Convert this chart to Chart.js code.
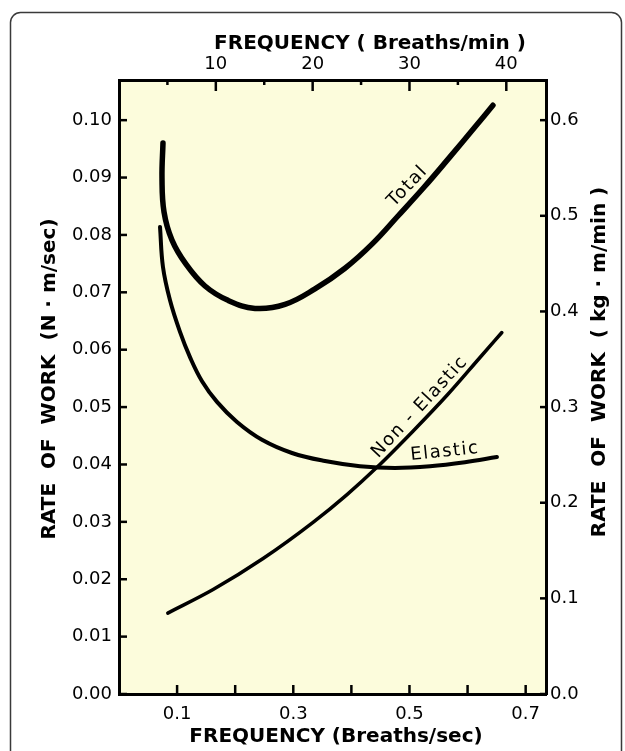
<!DOCTYPE html>
<html>
<head>
<meta charset="utf-8">
<script src="https://cdn.jsdelivr.net/npm/chart.js@4.4.1/dist/chart.umd.min.js"></script>
<style>
  body { margin: 0; background: #fff; }
  canvas { display: block; }
</style>
</head>
<body>
<canvas id="work-chart" width="625" height="751"></canvas>
<script>
"use strict"

// frequency in breaths/sec, rate of work in N·m/sec
const totalFreq      = [0.0757, 0.0740, 0.0775, 0.0912, 0.1153, 0.148, 0.1876, 0.2341, 0.2857, 0.3373, 0.389, 0.4355, 0.4802, 0.525, 0.5697, 0.6127, 0.6437];
const totalWork      = [0.0960, 0.0899, 0.0840, 0.0791, 0.0749, 0.0711, 0.0686, 0.0672, 0.0679, 0.0706, 0.0742, 0.0784, 0.0833, 0.0883, 0.0936, 0.0988, 0.1026];
const elasticFreq    = [0.0706, 0.0757, 0.0878, 0.105, 0.1222, 0.1429, 0.1687, 0.2031, 0.2461, 0.2978, 0.3546, 0.4148, 0.475, 0.5353, 0.5955, 0.6506];
const elasticWork    = [0.0814, 0.0744, 0.0686, 0.0631, 0.0587, 0.0545, 0.0509, 0.0474, 0.0443, 0.0420, 0.0406, 0.0397, 0.0394, 0.0397, 0.0404, 0.0413];
const nonElasticFreq = [0.084, 0.162, 0.248, 0.334, 0.392, 0.444, 0.506, 0.565, 0.621, 0.659];
const nonElasticWork = [0.0141, 0.0182, 0.0236, 0.0299, 0.0347, 0.0395, 0.0458, 0.0521, 0.0586, 0.0630];

const secTicks   = [0.1, 0.2, 0.3, 0.4, 0.5, 0.6, 0.7];
const secLabels  = [0.1, 0.3, 0.5, 0.7];
const minTicks   = [5, 10, 15, 20, 25, 30, 35, 40];
const minLabels  = [10, 20, 30, 40];
const leftTicks  = [0, 0.01, 0.02, 0.03, 0.04, 0.05, 0.06, 0.07, 0.08, 0.09, 0.10];
const rightTicks = [0, 0.1, 0.2, 0.3, 0.4, 0.5, 0.6];

const curveNames = ["Total", "Non - Elastic", "Elastic"];

const pts = (xs, ys) => xs.map((x, i) => ({ x: x, y: ys[i] }));
const tickFont = { family: "DejaVu Sans", size: 18 };

// where the hand lettering sits, in data units
const curveLabelPos = [
  { x: 0.497, y: 0.0885, angle: -46 },
  { x: 0.518, y: 0.0500, angle: -47 },
  { x: 0.561, y: 0.0422, angle: -6 }
];

// page frame + pale yellow plot
const backdrop = {
  id: "backdrop",
  beforeDraw(chart) {
    const { ctx, chartArea: a } = chart;
    ctx.save();
    ctx.fillStyle = "#fff";
    ctx.fillRect(0, 0, chart.width, chart.height);
    ctx.strokeStyle = "#3a3a3a";
    ctx.lineWidth = 1.5;
    ctx.beginPath();
    ctx.roundRect(10.5, 12.5, 611, 770, 10);
    ctx.stroke();
    ctx.fillStyle = "#fcfcdc";
    ctx.fillRect(a.left, a.top, a.right - a.left, a.bottom - a.top);
    ctx.restore();
  }
};

// tick marks point into the plot on every side
const inwardTicks = {
  id: "inwardTicks",
  beforeDatasetsDraw(chart) {
    const { ctx, chartArea: a, scales } = chart;
    ctx.save();
    ctx.strokeStyle = "#000";
    ctx.lineWidth = 2.5;
    const line = (x1, y1, x2, y2) => { ctx.beginPath(); ctx.moveTo(x1, y1); ctx.lineTo(x2, y2); ctx.stroke(); };
    scales.x.ticks.forEach(t => { const p = scales.x.getPixelForValue(t.value); line(p, a.bottom, p, a.bottom - 9); });
    scales.x2.ticks.forEach(t => {
      const p = scales.x2.getPixelForValue(t.value);
      line(p, a.top, p, a.top + (minLabels.includes(t.value) ? 11 : 5));
    });
    scales.y.ticks.forEach(t => { const p = scales.y.getPixelForValue(t.value); line(a.left, p, a.left + 8, p); });
    scales.y2.ticks.forEach(t => { const p = scales.y2.getPixelForValue(t.value); line(a.right, p, a.right - 6, p); });
    ctx.restore();
  }
};

const lettering = {
  id: "lettering",
  afterDatasetsDraw(chart) {
    const { ctx, chartArea: a, scales } = chart;
    ctx.save();
    ctx.fillStyle = "#000";
    ctx.textAlign = "center";
    ctx.textBaseline = "middle";

    ctx.font = "18px 'DejaVu Sans'";
    ctx.letterSpacing = "1.5px";
    curveNames.forEach((name, i) => {
      const p = curveLabelPos[i];
      ctx.save();
      ctx.translate(scales.x.getPixelForValue(p.x), scales.y.getPixelForValue(p.y));
      ctx.rotate(p.angle * Math.PI / 180);
      ctx.fillText(name, 0, 0);
      ctx.restore();
    });

    ctx.font = "bold 20px 'DejaVu Sans'";
    ctx.letterSpacing = "0px";
    const titles = [
      { text: "FREQUENCY ( Breaths/min )", x: a.left + 251, y: a.top - 36, rot: 0 },
      { text: "FREQUENCY (Breaths/sec)", x: a.left + 217, y: a.bottom + 43, rot: 0 },
      { text: "RATE  OF  WORK  (N · m/sec)", x: a.left - 69, y: a.top + 299, rot: -90 },
      { text: "RATE  OF  WORK  ( kg · m/min )", x: a.right + 54, y: a.top + 282, rot: -90 }
    ];
    titles.forEach(t => {
      ctx.save();
      ctx.translate(t.x, t.y);
      ctx.rotate(t.rot * Math.PI / 180);
      ctx.fillText(t.text, 0, 0);
      ctx.restore();
    });
    ctx.restore();
  }
};

const lineStyle = { borderColor: "#000", pointRadius: 0, tension: 0.4, fill: false,
                    borderCapStyle: "round", borderJoinStyle: "round" };

new Chart(document.getElementById("work-chart"), {
  type: "line",
  data: {
    datasets: [
      { ...lineStyle, label: curveNames[0], data: pts(totalFreq, totalWork), borderWidth: 5.5 },
      { ...lineStyle, label: curveNames[2], data: pts(elasticFreq, elasticWork), borderWidth: 4 },
      { ...lineStyle, label: curveNames[1], data: pts(nonElasticFreq, nonElasticWork), borderWidth: 3.5,
        cubicInterpolationMode: "monotone" }
    ]
  },
  options: {
    responsive: false,
    animation: false,
    devicePixelRatio: 1,
    layout: { padding: 0 },
    plugins: { legend: { display: false }, tooltip: { enabled: false } },
    scales: {
      x: {
        type: "linear", position: "bottom", min: 0, max: 0.735,
        afterBuildTicks: s => { s.ticks = secTicks.map(v => ({ value: v })); },
        afterFit: s => { s.height = 57; },
        grid: { drawOnChartArea: false, drawTicks: false },
        border: { color: "#000", width: 3 },
        ticks: { padding: 10, color: "#000", font: tickFont, maxRotation: 0, autoSkip: false,
                 callback: v => secLabels.includes(v) ? v.toFixed(1) : "" }
      },
      x2: {
        type: "linear", position: "top", min: 0, max: 44.1,
        afterBuildTicks: s => { s.ticks = minTicks.map(v => ({ value: v })); },
        afterFit: s => { s.height = 80; },
        grid: { drawOnChartArea: false, drawTicks: false },
        border: { color: "#000", width: 3 },
        ticks: { padding: 5, color: "#000", font: tickFont, maxRotation: 0, autoSkip: false,
                 callback: v => minLabels.includes(v) ? String(v) : "" }
      },
      y: {
        type: "linear", position: "left", min: 0, max: 0.107,
        afterBuildTicks: s => { s.ticks = leftTicks.map(v => ({ value: v })); },
        afterFit: s => { s.width = 119; },
        grid: { drawOnChartArea: false, drawTicks: false },
        border: { color: "#000", width: 3 },
        ticks: { padding: 7, color: "#000", font: tickFont, autoSkip: false, callback: v => v.toFixed(2) }
      },
      y2: {
        type: "linear", position: "right", min: 0, max: 0.642,
        afterBuildTicks: s => { s.ticks = rightTicks.map(v => ({ value: v })); },
        afterFit: s => { s.width = 79; },
        grid: { drawOnChartArea: false, drawTicks: false },
        border: { color: "#000", width: 3 },
        ticks: { padding: 4, color: "#000", font: tickFont, autoSkip: false, callback: v => v.toFixed(1) }
      }
    }
  },
  plugins: [backdrop, inwardTicks, lettering]
});
</script>
</body>
</html>
